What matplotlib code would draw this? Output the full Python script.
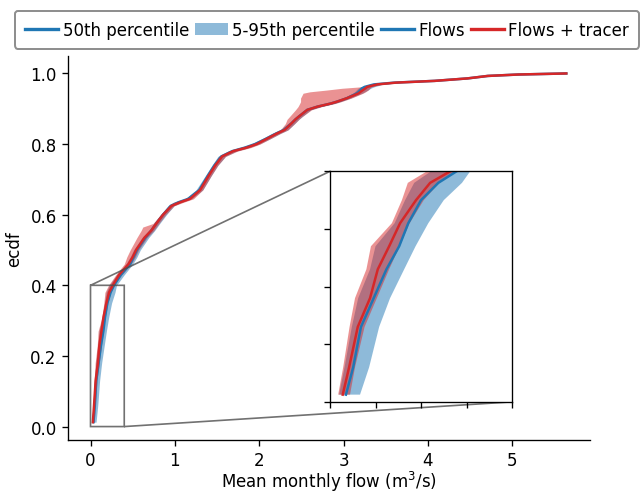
import matplotlib
matplotlib.use("Agg")
from matplotlib import pyplot as plt
from matplotlib.lines import Line2D
from matplotlib.patches import Patch

# ecdf levels shared by every curve
ecdf = [0.0125, 0.06, 0.13, 0.18, 0.23, 0.27, 0.31, 0.35, 0.38, 0.40,
        0.43, 0.46, 0.48, 0.50, 0.535, 0.555, 0.565, 0.575, 0.60, 0.625,
        0.635, 0.645, 0.67, 0.71, 0.74, 0.765, 0.78, 0.79, 0.80, 0.815,
        0.83, 0.84, 0.858, 0.87, 0.878, 0.897, 0.906, 0.915, 0.92, 0.93,
        0.944, 0.948, 0.953, 0.958, 0.962, 0.969, 0.974, 0.979, 0.986, 0.993,
        0.997, 1.0]

# flows only: 50th, 5th and 95th percentile of mean monthly flow (m3/s)
flows_p50 = [0.035, 0.051, 0.068, 0.096, 0.124, 0.152, 0.172, 0.200, 0.238, 0.278,
             0.36, 0.47, 0.51, 0.55, 0.65, 0.72, 0.75, 0.78, 0.86, 0.95,
             1.04, 1.16, 1.29, 1.39, 1.47, 1.55, 1.68, 1.83, 1.95, 2.08,
             2.20, 2.29, 2.38, 2.43, 2.47, 2.57, 2.69, 2.85, 2.92, 3.04,
             3.16, 3.18, 3.20, 3.22, 3.25, 3.36, 3.60, 4.08, 4.47, 4.71,
             5.07, 5.64]
flows_p05 = [0.020, 0.032, 0.048, 0.062, 0.088, 0.100, 0.142, 0.165, 0.185, 0.222,
             0.31, 0.42, 0.47, 0.51, 0.61, 0.69, 0.72, 0.75, 0.83, 0.92,
             1.00, 1.12, 1.25, 1.36, 1.44, 1.51, 1.63, 1.78, 1.90, 2.03,
             2.15, 2.25, 2.34, 2.40, 2.44, 2.54, 2.65, 2.80, 2.87, 2.99,
             3.11, 3.13, 3.15, 3.17, 3.20, 3.30, 3.55, 4.06, 4.45, 4.70,
             5.06, 5.64]
flows_p95 = [0.066, 0.086, 0.108, 0.132, 0.163, 0.188, 0.216, 0.250, 0.290, 0.308,
             0.40, 0.50, 0.55, 0.59, 0.69, 0.76, 0.79, 0.82, 0.90, 0.99,
             1.08, 1.20, 1.33, 1.43, 1.51, 1.60, 1.73, 1.88, 2.00, 2.13,
             2.25, 2.34, 2.42, 2.47, 2.51, 2.61, 2.73, 2.89, 2.96, 3.08,
             3.22, 3.25, 3.29, 3.32, 3.36, 3.46, 3.66, 4.10, 4.49, 4.72,
             5.08, 5.64]

# flows + tracer
tracer_p50 = [0.028, 0.042, 0.061, 0.088, 0.105, 0.130, 0.154, 0.189, 0.220, 0.264,
              0.34, 0.45, 0.50, 0.54, 0.64, 0.72, 0.75, 0.78, 0.86, 0.96,
              1.06, 1.18, 1.30, 1.40, 1.48, 1.56, 1.69, 1.85, 1.97, 2.09,
              2.21, 2.30, 2.38, 2.43, 2.47, 2.57, 2.69, 2.85, 2.92, 3.04,
              3.18, 3.20, 3.23, 3.26, 3.28, 3.40, 3.62, 4.08, 4.47, 4.71,
              5.07, 5.64]
tracer_p05 = [0.018, 0.029, 0.043, 0.055, 0.080, 0.090, 0.136, 0.158, 0.171, 0.213,
              0.30, 0.40, 0.43, 0.47, 0.55, 0.60, 0.62, 0.74, 0.83, 0.93,
              0.98, 1.12, 1.27, 1.37, 1.45, 1.52, 1.64, 1.79, 1.92, 2.05,
              2.16, 2.25, 2.31, 2.33, 2.36, 2.43, 2.46, 2.48, 2.49, 2.49,
              2.52, 2.60, 2.80, 2.98, 3.20, 3.36, 3.58, 4.05, 4.44, 4.69,
              5.05, 5.64]
tracer_p95 = [0.044, 0.055, 0.076, 0.103, 0.130, 0.153, 0.175, 0.206, 0.240, 0.278,
              0.37, 0.48, 0.53, 0.57, 0.67, 0.75, 0.78, 0.81, 0.89, 0.99,
              1.10, 1.22, 1.33, 1.43, 1.51, 1.60, 1.74, 1.90, 2.01, 2.13,
              2.25, 2.34, 2.42, 2.47, 2.51, 2.62, 2.74, 2.90, 2.97, 3.09,
              3.23, 3.26, 3.29, 3.31, 3.33, 3.44, 3.66, 4.11, 4.50, 4.73,
              5.09, 5.64]

BLUE = "C0"
RED = "C3"


def draw_curves(ax):
    ax.fill_betweenx(ecdf, flows_p05, flows_p95, color=BLUE, alpha=0.5, lw=0)
    ax.fill_betweenx(ecdf, tracer_p05, tracer_p95, color=RED, alpha=0.5, lw=0)
    ax.plot(flows_p50, ecdf, color=BLUE)
    ax.plot(tracer_p50, ecdf, color=RED)


fig, ax = plt.subplots(figsize=(5.35, 4.1), dpi=120)
fig.subplots_adjust(left=0.1064, right=0.919, bottom=0.1045, top=0.8841)

draw_curves(ax)
ax.spines["top"].set_visible(False)
ax.spines["right"].set_visible(False)
ax.set_xlabel("Mean monthly flow (m$^3$/s)", labelpad=-0.5)
ax.set_ylabel("ecdf")

# zoomed view of the lower tail
axins = ax.inset_axes([0.5016, 0.0984, 0.349, 0.601])
draw_curves(axins)
axins.set_xlim(0, 0.4)
axins.set_ylim(0, 0.4)
axins.set_xticks([0, 0.1, 0.2, 0.3, 0.4])
axins.set_yticks([0, 0.1, 0.2, 0.3, 0.4])
axins.set_xticklabels([])
axins.set_yticklabels([])
ax.indicate_inset_zoom(axins, edgecolor="0.3", alpha=0.8)

handles = [
    Line2D([], [], color=BLUE, lw=2),
    Patch(facecolor=BLUE, alpha=0.5),
    Line2D([], [], color=BLUE, lw=2),
    Line2D([], [], color=RED, lw=2),
]
labels = ["50th percentile", "5-95th percentile", "Flows", "Flows + tracer"]
leg = ax.legend(handles, labels, loc="lower center", bbox_to_anchor=(0.496, 1.0),
                ncol=4, handletextpad=0.25, columnspacing=0.35, borderpad=0.6,
                edgecolor="0.45", borderaxespad=0.45)
leg.get_frame().set_linewidth(1.2)

fig.savefig("out.png", dpi=120)
